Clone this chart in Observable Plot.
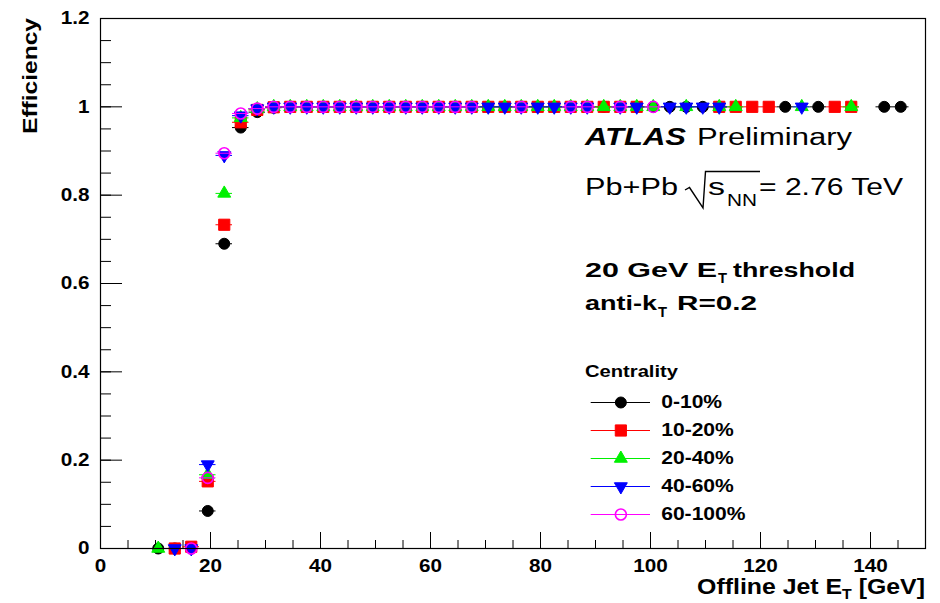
<!DOCTYPE html>
<html>
<head>
<meta charset="utf-8">
<script src="https://cdn.jsdelivr.net/npm/d3@7"></script>
<script src="https://cdn.jsdelivr.net/npm/@observablehq/plot@0.6"></script>
<style>
  body { margin: 0; background: #fff; }
  #chart { position: relative; width: 940px; height: 603px; background: #fff; }
  #legend { position: absolute; left: 570px; top: 355px; }
</style>
</head>
<body>
<div id="chart"></div>
<script>
// Trigger efficiency vs offline jet ET, per centrality class (3 GeV bins)
const binWidth = 3;
const binCenters = [
  10.5, 13.5, 16.5, 19.5, 22.5, 25.5, 28.5, 31.5, 34.5, 37.5,
  40.5, 43.5, 46.5, 49.5, 52.5, 55.5, 58.5, 61.5, 64.5, 67.5,
  70.5, 73.5, 76.5, 79.5, 82.5, 85.5, 88.5, 91.5, 94.5, 97.5,
  100.5, 103.5, 106.5, 109.5, 112.5, 115.5, 118.5, 121.5, 124.5, 127.5,
  130.5, 133.5, 136.5, 139.5, 142.5, 145.5
];

const centralityLabels = ["0-10%", "10-20%", "20-40%", "40-60%", "60-100%"];

// null = empty bin (no efficiency point)
const eff_0_10 = [
  0, 0, 0, 0.085, 0.69, 0.953, 0.988, 0.998, 1, 1,
  1, 1, 1, 1, 1, 1, 1, 1, 1, 1,
  1, 1, 1, 1, 1, 1, 1, 1, 1, 1,
  1, 1, 1, 1, 1, null, null, null, 1, null,
  1, null, null, null, 1, 1
];
const eff_10_20 = [
  null, 0, 0.004, 0.152, 0.733, 0.965, 0.993, 0.999, 1, 1,
  1, 1, 1, 1, 1, 1, 1, 1, 1, 1,
  1, 1, 1, 1, 1, 1, 1, 1, 1, 1,
  null, null, null, null, 1, 1, 1, 1, null, null,
  null, 1, 1, null, null, null
];
const eff_20_40 = [
  0, null, null, 0.167, 0.804, 0.975, 0.995, 1, 1, 1,
  1, 1, 1, 1, 1, 1, 1, 1, 1, 1,
  1, 1, 1, 1, 1, 1, 1, 1, 1, 1,
  1, null, 1, null, 1, 1, null, null, null, 1,
  null, null, 1, null, null, null
];
const eff_40_60 = [
  null, 0, 0, 0.19, 0.89, 0.98, 0.996, 1, 1, 1,
  1, 1, 1, 1, 1, 1, 1, 1, 1, 1,
  1, 1, 1, 1, 1, 1, 1, null, 1, 1,
  null, 1, 1, 1, 1, null, null, null, null, 1,
  null, null, null, null, null, null
];
const eff_60_100 = [
  null, null, 0, 0.16, 0.895, 0.985, 0.996, 1, 1, 1,
  1, 1, 1, 1, 1, 1, 1, 1, 1, 1,
  null, null, 1, null, null, 1, 1, null, 1, null,
  1, null, null, null, null, null, null, null, null, null,
  null, null, null, null, null, null
];

const xMajorTicks = [0, 20, 40, 60, 80, 100, 120, 140];
const yMajorTicks = [0, 0.2, 0.4, 0.6, 0.8, 1.0, 1.2];
const xMinorTicks = d3.range(0, 150, 5);
const yMinorTicks = d3.range(0, 1.2001, 0.05);

// ROOT-style markers: filled circle, square, triangle up/down, open circle
const triangleUp = {
  draw(ctx, size) {
    const a = Math.sqrt(4 * size / Math.sqrt(3)), h = a * Math.sqrt(3) / 2;
    ctx.moveTo(0, -2 * h / 3); ctx.lineTo(a / 2, h / 3); ctx.lineTo(-a / 2, h / 3); ctx.closePath();
  }
};
const triangleDown = {
  draw(ctx, size) {
    const a = Math.sqrt(4 * size / Math.sqrt(3)), h = a * Math.sqrt(3) / 2;
    ctx.moveTo(0, 2 * h / 3); ctx.lineTo(a / 2, -h / 3); ctx.lineTo(-a / 2, -h / 3); ctx.closePath();
  }
};

const series = [
  {label: centralityLabels[0], values: eff_0_10, color: "#000000", symbol: d3.symbolCircle, r: 5.5, fill: "#000000"},
  {label: centralityLabels[1], values: eff_10_20, color: "#ff0000", symbol: d3.symbolSquare, r: 6.3, fill: "#ff0000"},
  {label: centralityLabels[2], values: eff_20_40, color: "#00f000", symbol: triangleUp, r: 4.8, fill: "#00f000"},
  {label: centralityLabels[3], values: eff_40_60, color: "#0000ff", symbol: triangleDown, r: 4.8, fill: "#0000ff"},
  {label: centralityLabels[4], values: eff_60_100, color: "#ff00ff", symbol: d3.symbolCircle, r: 5.5, fill: "none"}
];

const rows = s => binCenters
  .map((et, i) => ({et, eff: s.values[i]}))
  .filter(d => d.eff != null);

const seriesMarks = series.flatMap(s => [
  Plot.ruleY(rows(s), {
    y: "eff", x1: d => d.et - binWidth / 2, x2: d => d.et + binWidth / 2,
    stroke: s.color, strokeWidth: 1
  }),
  Plot.dot(rows(s), {
    x: "et", y: "eff", symbol: s.symbol, r: s.r,
    fill: s.fill, stroke: s.color, strokeWidth: s.fill === "none" ? 1.6 : 1
  })
]);

const font = "'Liberation Sans', Arial, Helvetica, sans-serif";

const plot = Plot.plot({
  width: 940,
  height: 603,
  marginLeft: 100,
  marginRight: 15,
  marginTop: 18,
  marginBottom: 55,
  style: {fontFamily: font, fontSize: "18px", color: "black", background: "white"},
  x: {domain: [0, 150], label: null},
  y: {domain: [0, 1.2], label: null},
  marks: [
    Plot.axisX({ticks: xMinorTicks, tickSize: -8, tickFormat: () => "", label: null}),
    Plot.axisX({ticks: xMajorTicks, tickSize: -16, tickFormat: () => "", label: null}),
    Plot.axisX({ticks: xMajorTicks, tickSize: 0, tickPadding: 11, fontWeight: "bold", label: null}),
    Plot.axisY({ticks: yMinorTicks, tickSize: -11, tickFormat: () => "", label: null}),
    Plot.axisY({ticks: yMajorTicks, tickSize: -22, tickFormat: () => "", label: null}),
    Plot.axisY({ticks: yMajorTicks, tickSize: 0, tickPadding: 11,
      tickFormat: d => String(+d.toFixed(1)), fontWeight: "bold", label: null}),
    ...seriesMarks,
    Plot.frame({stroke: "black", strokeWidth: 1.2})
  ]
});

const chart = document.getElementById("chart");
chart.appendChild(plot);

// widen text slightly (ROOT Helvetica renders broad)
function stretch(sel, k) {
  sel.each(function () {
    const w = this.getComputedTextLength();
    if (w > 0) {
      this.setAttribute("textLength", (w * k).toFixed(1));
      this.setAttribute("lengthAdjust", "spacingAndGlyphs");
    }
  });
}
stretch(d3.select(plot).selectAll("text"), 1.15);

const svg = d3.select(plot);
function addText({x, y, text, size, weight = "normal", style = "normal", length = null, anchor = "start", transform = null}) {
  const t = svg.append("text")
    .attr("x", x).attr("y", y)
    .attr("font-family", font)
    .attr("font-size", size)
    .attr("font-weight", weight)
    .attr("font-style", style)
    .attr("text-anchor", anchor)
    .attr("fill", "black")
    .text(text);
  if (length) t.attr("textLength", length).attr("lengthAdjust", "spacingAndGlyphs");
  if (transform) t.attr("transform", transform);
  return t;
}

// axis titles
addText({x: 0, y: 0, text: "Efficiency", size: 20, weight: "bold", anchor: "end", length: 116,
  transform: "translate(37,18) rotate(-90)"});
const xt = svg.append("text")
  .attr("x", 925).attr("y", 594)
  .attr("font-family", font).attr("font-size", 22).attr("font-weight", "bold")
  .attr("text-anchor", "end").attr("fill", "black");
xt.append("tspan").text("Offline Jet E");
xt.append("tspan").attr("font-size", 14).attr("dy", 5).text("T");
xt.append("tspan").attr("dy", -5).text(" [GeV]");
stretch(xt, 1.13);

// ATLAS label block
addText({x: 585, y: 145, text: "ATLAS", size: 23, weight: "bold", style: "italic", length: 101});
addText({x: 697, y: 145, text: "Preliminary", size: 23, length: 155});
addText({x: 585, y: 195, text: "Pb+Pb", size: 23, length: 93});
svg.append("path")
  .attr("d", "M685,190 L689.5,187.5 L703,208 L705.5,171.5 L760,171.5")
  .attr("fill", "none").attr("stroke", "black").attr("stroke-width", 1.4);
addText({x: 708, y: 195, text: "s", size: 23, length: 17});
addText({x: 727, y: 206, text: "NN", size: 16, length: 30});
addText({x: 759, y: 195, text: "= 2.76 TeV", size: 23, length: 144});

addText({x: 585, y: 277, text: "20 GeV E", size: 21, weight: "bold", length: 132});
addText({x: 718, y: 283, text: "T", size: 14, weight: "bold", length: 9});
addText({x: 733, y: 277, text: "threshold", size: 21, weight: "bold", length: 122});
addText({x: 585, y: 310, text: "anti-k", size: 21, weight: "bold", length: 72});
addText({x: 658, y: 317, text: "T", size: 14, weight: "bold", length: 9});
addText({x: 677, y: 310, text: "R=0.2", size: 21, weight: "bold", length: 80});

addText({x: 585, y: 377, text: "Centrality", size: 16, weight: "bold", length: 93});

// legend: line + marker + label per centrality class
const legend = Plot.plot({
  width: 220,
  height: 180,
  margin: 0,
  style: {fontFamily: font, background: "transparent", overflow: "visible"},
  x: {domain: [0, 1], range: [20.7, 80], axis: null},
  y: {type: "point", domain: centralityLabels, range: [45.7, 160], padding: 0, axis: null},
  marks: [
    ...series.flatMap(s => [
      Plot.ruleY([s.label], {y: d => d, x1: 0, x2: 1, stroke: s.color, strokeWidth: 1}),
      Plot.dot([s.label], {x: 0.5, y: d => d, symbol: s.symbol, r: s.r,
        fill: s.fill, stroke: s.color, strokeWidth: s.fill === "none" ? 1.6 : 1})
    ]),
    Plot.text(centralityLabels, {x: 1, y: d => d, dx: 10.7, text: d => d,
      textAnchor: "start", fontWeight: "bold", fontSize: 18, fill: "black"})
  ]
});
legend.id = "legend";
chart.appendChild(legend);
stretch(d3.select(legend).selectAll("text"), 1.17);
</script>
</body>
</html>
